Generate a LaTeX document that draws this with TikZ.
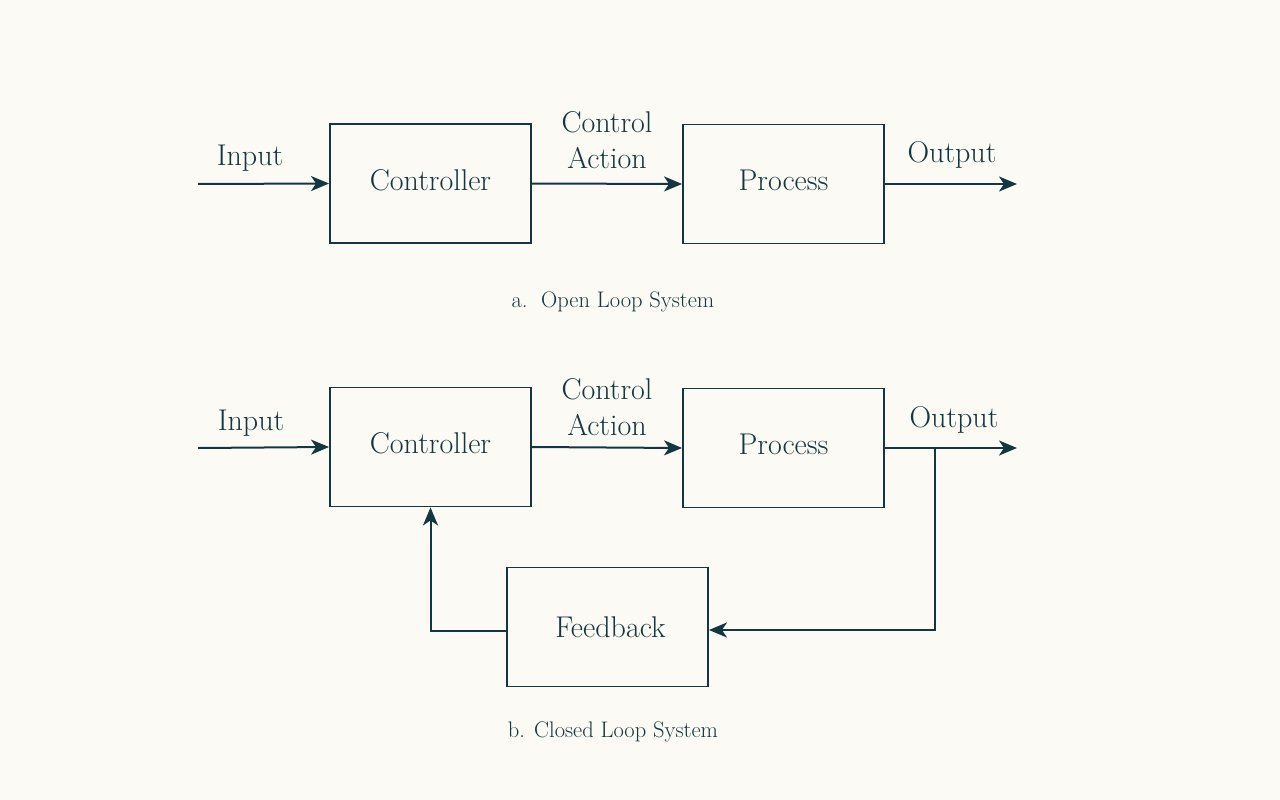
\documentclass[tikz,border=0pt]{standalone}
\usetikzlibrary{arrows.meta}
\definecolor{ink}{HTML}{143640}
\definecolor{bg}{HTML}{FBFAF5}
\newcommand{\upbit}[1]{\raisebox{3.5pt}[\height][\depth]{#1}}
\begin{document}
\begin{tikzpicture}[x=1pt,y=-1pt,
  blk/.style={draw=ink,line width=1.9pt,minimum width=201pt,minimum height=119pt,inner sep=0pt,text=ink,font=\fontsize{30}{36}\selectfont},
  lbl/.style={text=ink,font=\fontsize{30}{36}\selectfont,align=center,inner sep=0pt},
  captxt/.style={text=ink,font=\fontsize{22.5}{27}\selectfont,inner sep=0pt},
  conn/.style={draw=ink,line width=2pt},
  arr/.style={conn,-{Stealth[length=18pt,width=15pt,inset=5pt]}}]
\fill[bg] (0,0) rectangle (1280,800);
\useasboundingbox (0,0) rectangle (1280,800);
% open loop
\node[blk] (c1) at (430.5,183.5) {\upbit{Controller}};
\node[blk] (p1) at (783.5,184) {\upbit{Process}};
\coordinate (in1) at (198,184);
\coordinate (out1) at (1017,184);
\draw[arr] (in1) -- (c1.west);
\draw[arr] (c1.east) -- (p1.west);
\draw[arr] (p1.east) -- (out1);
\node[lbl] (li1) at (250,158) {Input};
\node[lbl] (lca1) at (607,140) {Control\\Action};
\node[lbl] (lo1) at (952,155) {Output};
\node[captxt] (capa) at (613,302) {a.\ \ Open Loop System};
% closed loop
\node[blk] (c2) at (430.5,447) {\upbit{Controller}};
\node[blk] (p2) at (783.5,448) {\upbit{Process}};
\node[blk] (fb) at (607.5,627) {\hspace*{6pt}Feedback};
\coordinate (in2) at (198,448);
\coordinate (out2) at (1017,448);
\coordinate (br) at (935,448);
\draw[arr] (in2) -- (c2.west);
\draw[arr] (c2.east) -- (p2.west);
\draw[arr] (p2.east) -- (out2);
\draw[arr] (br) |- ([yshift=-3pt]fb.east);
\draw[arr] ([yshift=-4pt]fb.west) -| (c2.south);
\node[lbl] (li2) at (251,423) {Input};
\node[lbl] (lca2) at (607,407) {Control\\Action};
\node[lbl] (lo2) at (954,420) {Output};
\node[captxt] (capb) at (613,732) {b. Closed Loop System};
\end{tikzpicture}
\end{document}
